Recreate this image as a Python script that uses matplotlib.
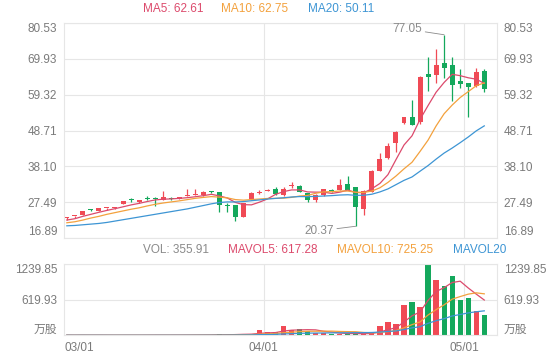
import matplotlib

matplotlib.use("Agg")

import matplotlib.pyplot as plt
import numpy as np
import pandas as pd

plt.rcParams["font.family"] = ["Liberation Sans", "Noto Sans CJK SC", "DejaVu Sans"]

# daily candles (03/01 .. 05/0x)
opens = [22.9, 23.3, 23.8, 25.4, 25.0, 25.7, 25.85, 27.0, 28.2, 27.4,
         28.6, 28.4, 28.1, 28.6, 28.5, 29.4, 29.6, 29.5, 30.6, 30.5,
         26.5, 26.6, 23.0, 28.3, 30.3, 30.9, 31.4, 29.6, 32.4, 32.3,
         30.1, 28.1, 29.6, 31.0, 31.1, 32.9, 31.9, 25.4, 30.6, 36.7,
         40.5, 45.1, 51.0, 52.6, 51.3, 65.4, 65.1, 68.8, 68.0, 63.4,
         62.7, 61.9, 66.3]
closes = [23.0, 23.4, 25.0, 25.3, 25.8, 25.8, 25.95, 27.75, 28.1, 28.1,
          28.5, 28.3, 28.9, 28.5, 28.9, 29.5, 29.7, 30.5, 30.5, 26.6,
          26.3, 23.2, 27.2, 30.2, 30.6, 31.1, 29.9, 31.3, 32.7, 30.6,
          28.1, 29.6, 31.3, 30.8, 32.5, 31.1, 26.2, 30.9, 36.7, 40.3,
          44.1, 48.4, 52.6, 50.3, 64.6, 64.6, 68.1, 67.1, 62.3, 62.6,
          61.5, 66.0, 60.9]
highs = [23.0, 23.4, 25.0, 25.6, 25.9, 25.8, 25.95, 27.8, 28.7, 28.2,
         29.2, 28.9, 30.9, 28.9, 29.0, 31.5, 31.5, 30.7, 30.8, 30.6,
         27.2, 26.6, 27.2, 30.4, 31.2, 31.3, 31.9, 32.0, 33.6, 32.5,
         30.3, 29.8, 31.5, 31.3, 34.3, 35.2, 32.0, 31.0, 37.0, 42.0,
         44.9, 48.6, 52.8, 57.7, 64.7, 70.4, 72.75, 77.05, 70.4, 66.8,
         62.7, 67.1, 66.9]
lows = [22.3, 22.9, 23.8, 25.0, 24.9, 25.2, 25.4, 27.0, 27.6, 27.3,
        28.0, 26.4, 28.0, 28.2, 28.4, 29.4, 29.6, 29.4, 30.3, 24.7,
        24.6, 21.8, 23.0, 28.2, 30.0, 30.7, 29.7, 29.3, 31.6, 30.4,
        27.65, 27.4, 29.4, 30.6, 31.0, 31.0, 20.37, 23.7, 30.5, 36.6,
        40.3, 42.4, 50.6, 50.2, 50.6, 60.5, 62.7, 64.2, 57.4, 61.2,
        52.8, 61.5, 60.2]
volumes = [4, 3, 5, 3, 4, 3, 2, 5, 4, 3,
           5, 4, 6, 4, 5, 6, 7, 9, 8, 20,
           16, 26, 30, 22, 88, 62, 52, 160, 100, 113,
           80, 35, 38, 33, 30, 30, 35, 28, 50, 165,
           230, 200, 530, 590, 500, 1239.85, 965, 870, 1035, 618,
           648, 430, 355.91]

# moving averages as shown on the chart
ma5 = [22.2, 22.6, 23.3, 23.9, 24.5, 25.06, 25.57, 26.12, 26.68, 27.14,
       27.68, 28.15, 28.38, 28.46, 28.62, 28.82, 29.1, 29.42, 29.82, 29.36,
       28.72, 27.42, 26.76, 26.7, 27.5, 28.46, 29.8, 30.62, 31.12, 31.12,
       30.52, 30.46, 30.46, 30.08, 30.46, 31.06, 30.38, 30.3, 31.48, 33.04,
       35.64, 40.08, 44.42, 47.14, 52.0, 56.1, 60.04, 62.94, 65.34, 64.94,
       64.32, 63.9, 62.66]
ma10 = [21.4, 21.7, 22.2, 22.8, 23.3, 23.9, 24.4, 24.9, 25.4, 25.82,
        26.37, 26.86, 27.25, 27.57, 27.88, 28.25, 28.63, 28.9, 29.14, 28.99,
        28.77, 28.26, 28.09, 28.26, 28.43, 28.59, 28.61, 28.69, 28.91, 29.31,
        29.49, 30.13, 30.54, 30.6, 30.79, 30.79, 30.42, 30.38, 30.78, 31.75,
        33.35, 35.23, 37.36, 39.31, 42.52, 45.87, 50.06, 53.68, 56.24, 58.47,
        60.21, 61.97, 62.8]
ma20 = [20.5, 20.6, 20.8, 21.0, 21.2, 21.5, 21.9, 22.3, 22.7, 23.1,
        23.5, 23.9, 24.3, 24.7, 25.1, 25.5, 26.0, 26.5, 27.0, 27.4,
        27.57, 27.56, 27.67, 27.92, 28.16, 28.42, 28.62, 28.8, 29.03, 29.15,
        29.13, 29.2, 29.32, 29.43, 29.61, 29.69, 29.52, 29.54, 29.85, 30.53,
        31.42, 32.68, 33.95, 34.96, 36.66, 38.33, 40.24, 42.03, 43.51, 45.11,
        46.78, 48.6, 50.08]

price_ticks = [16.89, 27.49, 38.10, 48.71, 59.32, 69.93, 80.53]
vol_ticks = [0, 619.93, 1239.85]
vol_tick_labels = ["万股", "619.93", "1239.85"]
date_ticks = [-0.35, 24.5, 49.5]
date_labels = ["03/01", "04/01", "05/01"]

UP = "#f04a55"
DOWN = "#14a85c"
C_MA5 = "#dc4a6c"
C_MA10 = "#f3a13d"
C_MA20 = "#3d95d4"
GRID = "#e6e6e6"
LABEL = "#7a7a7a"

x = np.arange(len(closes))
o = np.array(opens)
c = np.array(closes)
colors = [UP if cc >= oo else DOWN for oo, cc in zip(o, c)]

vol = pd.Series(volumes)
mavol5 = vol.rolling(5, min_periods=1).mean()
mavol10 = vol.rolling(10, min_periods=1).mean()
mavol20 = vol.rolling(20, min_periods=1).mean()

fig = plt.figure(figsize=(5.6, 3.6), dpi=100)
fig.patch.set_facecolor("white")
ax = fig.add_axes([0.1143, 0.3389, 0.7727, 0.5972])
axv = fig.add_axes([0.1143, 0.0681, 0.7727, 0.1978], sharex=ax)


def style_axis(a, ticks, labels):
    a.set_yticks(ticks)
    a.set_yticklabels(labels)
    a.grid(axis="y", color=GRID, lw=0.8)
    a.set_axisbelow(True)
    for s in a.spines.values():
        s.set_color(GRID)
        s.set_linewidth(0.8)
    a.tick_params(axis="y", length=0, labelsize=8.5, labelcolor=LABEL,
                  labelleft=True, labelright=True, pad=5)
    ticks_obj = a.yaxis.get_major_ticks()
    for t in (ticks_obj[0].label1, ticks_obj[0].label2):
        t.set_verticalalignment("bottom")
    for t in (ticks_obj[-1].label1, ticks_obj[-1].label2):
        t.set_verticalalignment("top")
    for gx in date_ticks[1:]:
        a.axvline(gx, color=GRID, lw=0.8, zorder=0)


# candles
body_bottom = np.minimum(o, c)
body_height = np.maximum(np.abs(c - o), 0.3)
ax.vlines(x, lows, highs, colors=colors, lw=0.9, zorder=2)
ax.bar(x, body_height, width=0.62, bottom=body_bottom, color=colors, zorder=2)
ax.plot(x, ma5, color=C_MA5, lw=0.9, zorder=3)
ax.plot(x, ma10, color=C_MA10, lw=0.9, zorder=3)
ax.plot(x, ma20, color=C_MA20, lw=0.9, zorder=3)
ax.set_xlim(-0.35, 53.55)
ax.set_ylim(price_ticks[0], price_ticks[-1])
style_axis(ax, price_ticks, [f"{v:.2f}" for v in price_ticks])
ax.tick_params(axis="x", length=0, labelbottom=False)

ax.annotate("77.05", xy=(47, 77.05), xytext=(44.3, 78.7), ha="right", va="center",
            fontsize=8.5, color="#8a8a8a",
            arrowprops=dict(arrowstyle="-", color="#8a8a8a", lw=0.6, shrinkA=0, shrinkB=0))
ax.annotate("20.37", xy=(36, 20.37), xytext=(33.3, 19.0), ha="right", va="center",
            fontsize=8.5, color="#8a8a8a",
            arrowprops=dict(arrowstyle="-", color="#8a8a8a", lw=0.6, shrinkA=0, shrinkB=0))

# volume
axv.bar(x, volumes, width=0.65, color=colors, zorder=2)
axv.plot(x, mavol5, color=C_MA5, lw=0.9, zorder=3)
axv.plot(x, mavol10, color=C_MA10, lw=0.9, zorder=3)
axv.plot(x, mavol20, color=C_MA20, lw=0.9, zorder=3)
axv.set_ylim(0, vol_ticks[-1])
style_axis(axv, vol_ticks, vol_tick_labels)
axv.set_xticks(date_ticks)
axv.set_xticklabels(date_labels)
axv.tick_params(axis="x", length=0, labelsize=8.5, labelcolor=LABEL, pad=5)
axv.get_xticklabels()[0].set_horizontalalignment("left")

# legends
top_items = [("MA5: 62.61", C_MA5, 142.7), ("MA10: 62.75", C_MA10, 221),
             ("MA20: 50.11", C_MA20, 307.7)]
for txt, col, px in top_items:
    fig.text(px / 560, 1 - 9.5 / 360, txt, color=col, fontsize=8.5, ha="left", va="center")
vol_items = [("VOL: 355.91", "#8a8a8a", 142.7), ("MAVOL5: 617.28", C_MA5, 228),
             ("MAVOL10: 725.25", C_MA10, 337.3), ("MAVOL20", C_MA20, 452.7)]
for txt, col, px in vol_items:
    fig.text(px / 560, 1 - 250 / 360, txt, color=col, fontsize=8.5, ha="left", va="center")

fig.savefig("out.png", dpi=100, facecolor="white")
plt.close(fig)
